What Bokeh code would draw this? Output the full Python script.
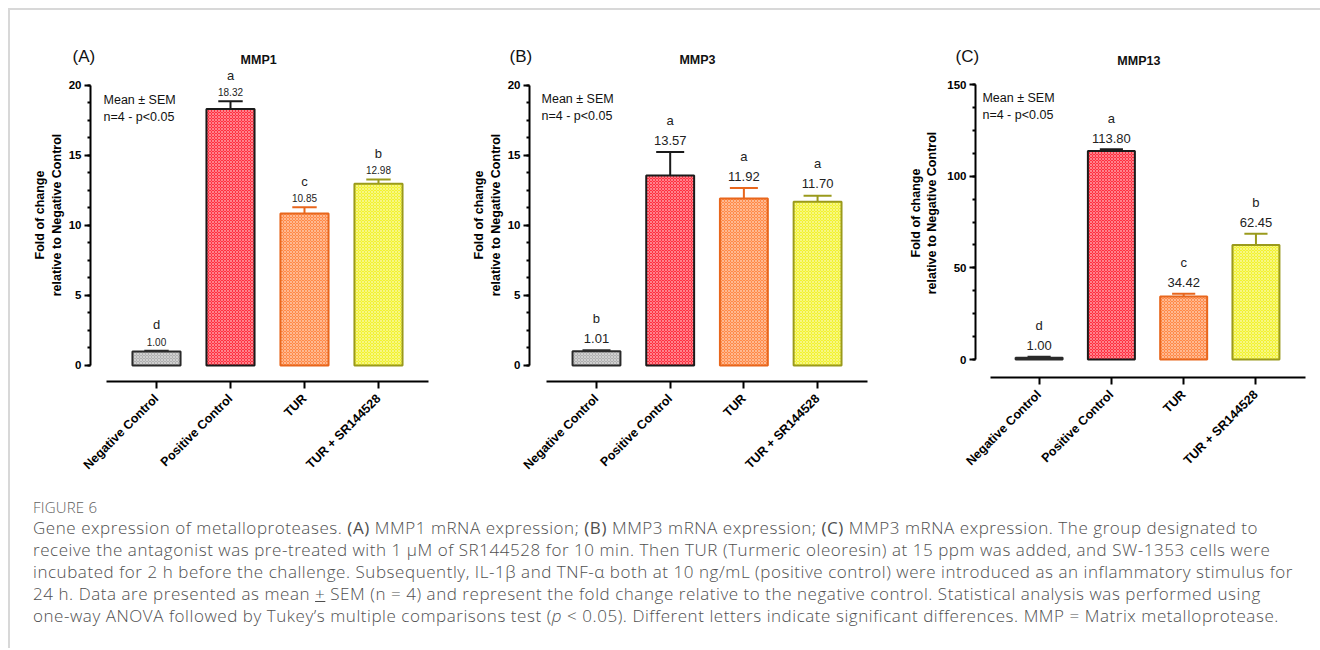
import math
from bokeh.plotting import figure
from bokeh.models import (Range1d, FixedTicker, SingleIntervalTicker, Label, Div,
                          ColumnDataSource)
from bokeh.layouts import row, column
from bokeh.embed import file_html
from bokeh.resources import INLINE
from bokeh.core.properties import value

# ---------------- data ----------------
categories = ["Negative Control", "Positive Control", "TUR", "TUR + SR144528"]

mmp1_mean = [1.00, 18.32, 10.85, 12.98]
mmp1_sem = [0.05, 0.56, 0.46, 0.31]
mmp1_letters = ["d", "a", "c", "b"]

mmp3_mean = [1.01, 13.57, 11.92, 11.70]
mmp3_sem = [0.07, 1.67, 0.75, 0.42]
mmp3_letters = ["b", "a", "a", "a"]

mmp13_mean = [1.00, 113.80, 34.42, 62.45]
mmp13_sem = [0.5, 0.9, 1.4, 6.2]
mmp13_letters = ["d", "a", "c", "b"]

fill_colors = ["#b0b0b0", "#ff3040", "#ff8a48", "#f2f230"]
line_colors = ["#2a2a2a", "#1a1a1a", "#e8661c", "#9a9a1c"]

FONT = "Liberation Sans"


def make_panel(tag, title, means, sems, letters, *, width, height, border_left, border_right,
               border_bottom, x_range, x_bounds, y_range, y_top, interval,
               val_font, val_off, let_off, tag_offset, title_xy, note_xy, cap_half,
               label_standoff):
    p = figure(width=width, height=height, output_backend="svg", toolbar_location=None,
               x_range=Range1d(*x_range), y_range=Range1d(*y_range),
               min_border_left=border_left, min_border_right=border_right,
               min_border_top=38, min_border_bottom=border_bottom)
    p.outline_line_color = None
    p.grid.visible = False
    p.background_fill_color = "white"
    p.border_fill_color = "white"

    # panel tag "(A)" as the plot title, pushed left of the frame
    p.title.text = tag
    p.title.align = "left"
    p.title.offset = tag_offset
    p.title.standoff = -34
    p.title.text_font = FONT
    p.title.text_font_size = "17px"
    p.title.text_font_style = "normal"
    p.title.text_color = "#111111"

    xs = list(range(len(categories)))
    tops = [m + s for m, s in zip(means, sems)]
    src = ColumnDataSource(dict(
        x=xs, mean=means, top=tops, fill=fill_colors, line=line_colors,
        cl=[x - cap_half for x in xs], cr=[x + cap_half for x in xs],
        vlab=[f"{m:.2f}" for m in means], let=letters))

    # error bars (upper only)
    p.segment(x0="x", y0="mean", x1="x", y1="top", line_color="line", line_width=2, source=src)
    p.segment(x0="cl", y0="top", x1="cr", y1="top", line_color="line", line_width=2, source=src)

    p.vbar(x="x", top="mean", bottom=0, width=0.65, source=src,
           fill_color="fill", line_color="line", line_width=2,
           hatch_pattern="diagonal_cross", hatch_color="white", hatch_alpha=0.4,
           hatch_scale=3, hatch_weight=1)

    p.text(x="x", y="top", text="vlab", source=src, y_offset=val_off,
           text_align="center", text_baseline="middle", text_color="#222222",
           text_font=value(FONT), text_font_size=val_font)
    p.text(x="x", y="top", text="let", source=src, y_offset=let_off,
           text_align="center", text_baseline="middle", text_color="#222222",
           text_font=value(FONT), text_font_size="13px")

    # axes
    ya = p.yaxis[0]
    ya.bounds = (0, y_top)
    ya.ticker = SingleIntervalTicker(interval=interval, num_minor_ticks=4)
    ya.axis_line_width = 2
    ya.axis_line_color = "black"
    ya.major_tick_line_width = 2
    ya.major_tick_in = 0
    ya.major_tick_out = 6
    ya.minor_tick_line_width = 2
    ya.minor_tick_in = 0
    ya.minor_tick_out = 3
    ya.major_label_text_font = FONT
    ya.major_label_text_font_style = "bold"
    ya.major_label_text_font_size = "11.5px"
    ya.major_label_text_color = "black"
    ya.major_label_standoff = 3
    ya.axis_label = "Fold of change\nrelative to Negative Control"
    ya.axis_label_text_font = FONT
    ya.axis_label_text_font_style = "bold"
    ya.axis_label_text_font_size = "12.5px"
    ya.axis_label_text_color = "black"
    ya.axis_label_standoff = label_standoff

    xa = p.xaxis[0]
    xa.bounds = x_bounds
    xa.ticker = FixedTicker(ticks=xs)
    xa.major_label_overrides = {i: c for i, c in enumerate(categories)}
    xa.minor_tick_line_color = None
    xa.axis_line_width = 2
    xa.axis_line_color = "black"
    xa.major_tick_line_width = 2
    xa.major_tick_in = 0
    xa.major_tick_out = 7
    xa.major_label_orientation = math.pi / 4
    xa.major_label_text_font = FONT
    xa.major_label_text_font_style = "bold"
    xa.major_label_text_font_size = "12.5px"
    xa.major_label_text_color = "black"
    xa.major_label_standoff = 8

    # panel title (inside the extended frame, above the axis top)
    p.add_layout(Label(x=title_xy[0], y=title_xy[1], text=title, text_align="center",
                       text_baseline="middle", text_font=FONT, text_font_size="12.5px",
                       text_font_style="bold", text_color="#111111"))
    p.add_layout(Label(x=note_xy[0], y=note_xy[1], text="Mean ± SEM\nn=4 - p<0.05",
                       text_align="left", text_baseline="top", text_font=FONT,
                       text_font_size="12.5px", text_color="#111111"))
    return p


pA = make_panel("(A)", "MMP1", mmp1_mean, mmp1_sem, mmp1_letters,
                width=432, height=492, border_left=80, border_right=10, border_bottom=121,
                x_range=(-0.892, 3.73), x_bounds=(-0.676, 3.676),
                y_range=(-1.143, 22.64), y_top=20, interval=5,
                val_font="10px", val_off=-9, let_off=-26,
                tag_offset=-18, title_xy=(1.38, 21.79), note_xy=(-0.716, 19.45),
                cap_half=0.165, label_standoff=2)

pB = make_panel("(B)", "MMP3", mmp3_mean, mmp3_sem, mmp3_letters,
                width=443, height=492, border_left=87, border_right=10, border_bottom=121,
                x_range=(-0.909, 3.786), x_bounds=(-0.678, 3.677),
                y_range=(-1.143, 22.64), y_top=20, interval=5,
                val_font="13px", val_off=-12, let_off=-32,
                tag_offset=-20, title_xy=(1.37, 21.79), note_xy=(-0.746, 19.5),
                cap_half=0.19, label_standoff=2)

pC = make_panel("(C)", "MMP13", mmp13_mean, mmp13_sem, mmp13_letters,
                width=425, height=488, border_left=90, border_right=2, border_bottom=121,
                x_range=(-0.880, 3.727), x_bounds=(-0.674, 3.686),
                y_range=(-9.82, 169.7), y_top=150, interval=50,
                val_font="13px", val_off=-11, let_off=-31,
                tag_offset=-20, title_xy=(1.38, 163.1), note_xy=(-0.784, 146.5),
                cap_half=0.16, label_standoff=5)

caption_html = """
<div style="padding-left:18px; font-family:'Open Sans', sans-serif; color:#4f4f4f; white-space:nowrap; font-weight:300;">
<div style="font-size:15px; line-height:20px; color:#606060; margin-top:-10px; letter-spacing:0.2px;">FIGURE 6</div>
<div style="font-size:17px; line-height:22px; letter-spacing:0.55px;">
Gene expression of metalloproteases. <b>(A)</b> MMP1 mRNA expression; <b>(B)</b> MMP3 mRNA expression; <b>(C)</b> MMP3 mRNA expression. The group designated to<br>
receive the antagonist was pre-treated with 1 μM of SR144528 for 10 min. Then TUR (Turmeric oleoresin) at 15 ppm was added, and SW-1353 cells were<br>
incubated for 2 h before the challenge. Subsequently, IL-1β and TNF-α both at 10 ng/mL (positive control) were introduced as an inflammatory stimulus for<br>
24 h. Data are presented as mean <u>+</u> SEM (n = 4) and represent the fold change relative to the negative control. Statistical analysis was performed using<br>
one-way ANOVA followed by Tukey’s multiple comparisons test (<i>p</i> &lt; 0.05). Different letters indicate significant differences. MMP = Matrix metalloprotease.
</div></div>
"""
cap = Div(text=caption_html, width=1300, height=136)

layout = column(row(pA, pB, pC), cap,
                styles={"margin-left": "8px", "margin-top": "8px",
                        "border-top": "2px solid #d8d8d8", "border-left": "2px solid #d8d8d8"})

open("out.html", "w").write(file_html(layout, INLINE))
